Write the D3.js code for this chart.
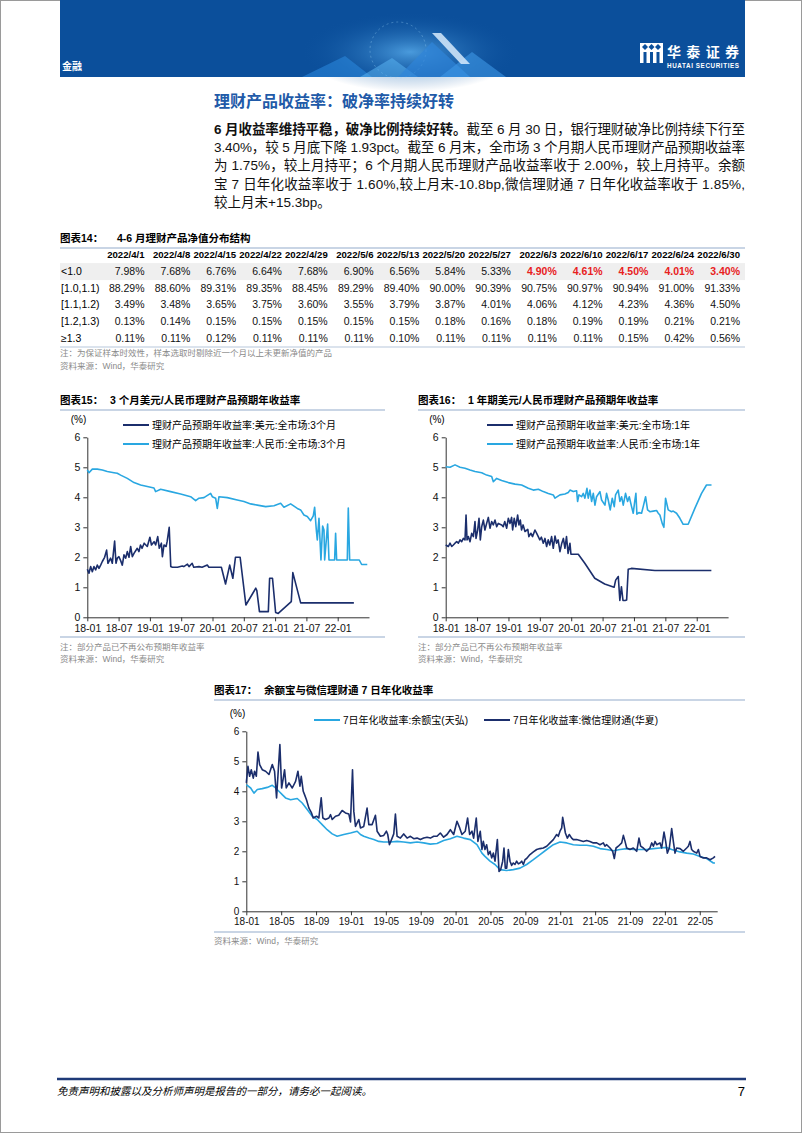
<!DOCTYPE html>
<html>
<head>
<meta charset="utf-8">
<script src="https://cdn.jsdelivr.net/npm/d3@7"></script>
<style>
  body { margin: 0; background: #fff; }
  svg { display: block; }
</style>
</head>
<body>
<svg id="page" width="802" height="1133"></svg>
<script>
// ---------- data ----------
// table 14: net value distribution
const tableDates = ["2022/4/1","2022/4/8","2022/4/15","2022/4/22","2022/4/29","2022/5/6","2022/5/13",
                    "2022/5/20","2022/5/27","2022/6/3","2022/6/10","2022/6/17","2022/6/24","2022/6/30"];
const tableRowLabels = ["<1.0", "[1.0,1.1)", "[1.1,1.2)", "[1.2,1.3)", "≥1.3"];
const rowBelow10 = [7.98,7.68,6.76,6.64,7.68,6.90,6.56,5.84,5.33,4.90,4.61,4.50,4.01,3.40];
const row10to11  = [88.29,88.60,89.31,89.35,88.45,89.29,89.40,90.00,90.39,90.75,90.97,90.94,91.00,91.33];
const row11to12  = [3.49,3.48,3.65,3.75,3.60,3.55,3.79,3.87,4.01,4.06,4.12,4.23,4.36,4.50];
const row12to13  = [0.13,0.14,0.15,0.15,0.15,0.15,0.15,0.18,0.16,0.18,0.19,0.19,0.21,0.21];
const rowAbove13 = [0.11,0.11,0.12,0.11,0.11,0.11,0.10,0.11,0.11,0.11,0.11,0.15,0.42,0.56];
const redFromDate = "2022/6/3"; // first row turns red from here

// x values below are months counted from 2018-01
const halfYearTicks = [0, 6, 12, 18, 24, 30, 36, 42, 48];
const halfYearLabels = ["18-01","18-07","19-01","19-07","20-01","20-07","21-01","21-07","22-01"];
const fourMonthTicks = [0, 4, 8, 12, 16, 20, 24, 28, 32, 36, 40, 44, 48, 52];
const fourMonthLabels = ["18-01","18-05","18-09","19-01","19-05","19-09","20-01","20-05","20-09",
                         "21-01","21-05","21-09","22-01","22-05"];
const yTicks = [0, 1, 2, 3, 4, 5, 6];

// chart 15: 3 month products
const usd3m = [[0,1.60],[0.32,1.47],[0.64,1.69],[0.96,1.52],[1.28,1.69],[1.6,1.58],[1.92,1.74],[2.24,1.63],
  [2.56,1.74],[2.88,1.86],[3.32,2.0],[3.7,2.24],[3.96,1.8],[4.47,1.97],[4.79,1.8],[5.24,2.54],[5.5,1.8],
  [5.75,1.97],[6.07,2.02],[6.39,1.89],[6.71,1.74],[7.03,2.08],[7.35,1.97],[7.67,2.19],[7.99,2.0],[8.31,2.36],
  [8.63,2.02],[8.95,2.13],[9.58,2.3],[9.9,2.19],[10.2,2.41],[10.5,2.3],[10.9,2.47],[11.5,2.36],[12.0,2.67],
  [12.3,2.41],[12.8,2.52],[13.1,2.41],[13.5,2.69],[13.8,2.3],[14.2,2.47],[14.4,2.02],[14.7,2.41],[15.1,2.36],
  [15.3,2.52],[15.7,3.0],[16.0,1.69],[16.3,1.67],[17.3,1.67],[18.2,1.71],[18.5,1.69],[19.2,1.77],[19.5,1.69],
  [20.1,1.8],[20.4,1.67],[21.4,1.69],[22.0,1.67],[23.0,1.74],[23.3,1.67],[25.7,1.67],[26.5,1.11],[27.3,1.74],
  [27.9,1.3],[28.4,2.0],[29.3,2.0],[30.4,0.41],[32.3,0.97],[32.5,0.89],[33.0,0.19],[34.7,0.19],[34.95,1.3],
  [35.5,1.3],[36.1,0.16],[36.6,0.13],[39.1,0.52],[39.4,1.49],[40.9,0.48],[51.1,0.48]];
const cny3m = [[0,4.91],[0.32,4.82],[0.96,4.94],[1.92,4.94],[2.88,4.91],[3.83,4.86],[5.11,4.82],[5.75,4.80],
  [6.39,4.74],[7.67,4.63],[8.95,4.49],[10.22,4.41],[11.5,4.36],[12.78,4.31],[13.1,4.19],[14.06,4.27],
  [15.97,4.19],[17.89,4.11],[19.81,4.02],[20.77,3.89],[21.41,3.97],[22.36,3.99],[23.64,4.13],[23.96,4.02],
  [24.6,3.97],[24.92,3.63],[25.24,4.02],[26.84,3.99],[28.75,3.91],[30.03,3.86],[31.31,3.78],[32.59,3.74],
  [34.19,3.69],[35.78,3.72],[37.06,3.80],[37.7,3.67],[38.98,3.78],[40.26,3.63],[40.89,3.58],[41.53,3.41],
  [42.17,3.36],[42.81,3.22],[43.32,3.38],[43.58,3.67],[43.9,2.91],[44.09,2.58],[44.41,3.30],[44.79,1.91],
  [45.11,3.04],[45.37,2.91],[45.5,1.91],[46.07,3.11],[46.33,1.91],[47.41,1.91],[47.6,2.80],[47.8,1.91],
  [49.84,1.91],[50.03,3.64],[50.29,1.91],[52.14,1.91],[52.59,1.76],[53.67,1.76]];

// chart 16: 1 year products
const usd1y = [[0,2.41],[0.51,2.36],[0.83,2.47],[1.15,2.36],[1.46,2.41],[1.78,2.47],[2.1,2.52],[2.42,2.47],
  [2.74,2.58],[3.06,2.52],[3.38,2.63],[3.69,2.58],[3.89,3.41],[4.08,2.58],[4.33,2.69],[4.65,2.52],[4.97,2.80],
  [5.29,2.69],[5.6,3.19],[5.8,2.63],[6.11,2.91],[6.37,3.30],[6.62,2.58],[6.88,3.02],[7.2,3.24],[7.5,2.91],
  [7.83,3.13],[8.15,3.33],[8.47,2.97],[8.79,3.19],[9.1,3.08],[9.43,3.24],[9.75,3.02],[10.06,3.13],[10.7,3.08],
  [11.0,3.02],[11.3,3.19],[11.66,2.97],[11.97,3.30],[12.3,3.13],[12.6,3.33],[12.8,2.91],[13.1,3.30],[13.4,3.02],
  [13.76,3.41],[14.0,3.08],[14.27,3.24],[14.5,2.91],[14.8,3.08],[15.16,2.86],[15.7,2.93],[15.9,2.69],[16.3,2.80],
  [16.6,2.69],[17.07,2.91],[17.4,2.80],[17.7,2.69],[18.0,2.58],[18.3,2.67],[18.66,2.47],[18.98,2.63],[19.3,2.36],
  [19.6,2.58],[19.9,2.41],[20.25,2.69],[20.57,2.30],[20.9,2.71],[21.2,2.47],[21.5,2.58],[21.85,2.19],[22.2,2.47],
  [22.5,2.63],[22.8,2.30],[23.1,2.69],[23.4,2.13],[23.76,2.47],[23.95,2.10],[25.35,2.10],[26.6,1.80],[28.5,1.30],
  [30.4,1.11],[32.2,1.00],[32.5,1.24],[33.0,1.36],[33.3,0.56],[33.6,1.02],[33.9,0.56],[34.3,0.56],[34.6,0.58],
  [34.9,1.60],[35.5,1.63],[40.0,1.56],[50.8,1.56]];
const cny1y = [[0,5.02],[0.83,5.0],[1.78,5.08],[2.74,5.0],[3.69,4.97],[4.65,4.91],[5.61,4.86],[6.88,4.82],
  [7.83,4.74],[8.79,4.69],[9.11,4.52],[9.75,4.63],[10.7,4.56],[11.97,4.49],[13.25,4.44],[14.52,4.41],[15.8,4.30],
  [16.75,4.24],[17.71,4.27],[18.66,4.19],[19.62,4.13],[20.57,4.08],[20.89,3.97],[21.85,4.08],[22.8,4.11],
  [23.44,4.16],[23.76,4.24],[24.39,4.19],[25.03,4.22],[25.22,3.86],[25.48,4.08],[25.99,4.02],[26.31,4.13],
  [26.62,3.97],[27.01,4.30],[27.26,3.97],[27.58,4.24],[27.9,3.86],[28.22,4.13],[28.54,3.74],[28.85,4.02],
  [29.49,4.19],[29.81,3.91],[30.45,3.74],[30.76,4.13],[31.08,3.91],[31.46,3.58],[31.85,3.97],[32.23,3.69],
  [32.48,4.08],[32.99,4.24],[33.31,3.86],[33.63,4.02],[33.95,3.74],[34.39,4.13],[34.78,3.86],[35.1,4.02],
  [35.54,3.69],[35.86,3.47],[36.18,3.91],[36.37,4.13],[36.56,3.44],[36.94,3.49],[37.45,3.47],[37.77,3.69],
  [38.22,4.02],[38.6,3.58],[39.04,3.52],[39.68,3.54],[40.32,3.56],[40.64,3.47],[40.96,3.41],[41.4,3.13],
  [41.72,3.00],[42.04,3.97],[42.55,3.58],[43.18,3.52],[43.5,3.54],[44.14,3.47],[44.78,3.30],[45.41,3.10],
  [46.37,3.10],[47.64,3.63],[48.92,4.13],[49.87,4.41],[50.83,4.41]];

// chart 17: 7 day annualised yield
const yuebao = [[0,4.22],[0.5,4.11],[0.88,3.94],[1.26,4.06],[1.83,4.09],[2.4,4.13],[2.98,4.2],[3.36,4.11],
  [3.74,4.0],[4.12,3.89],[4.5,3.78],[5.08,3.72],[5.84,3.76],[6.41,3.61],[6.98,3.39],[7.56,3.17],[8.13,3.06],
  [8.7,2.89],[9.27,2.72],[9.85,2.58],[10.42,2.5],[11.18,2.56],[11.95,2.61],[12.71,2.67],[13.09,2.56],[13.47,2.5],
  [14.05,2.44],[14.62,2.39],[15.19,2.33],[15.76,2.31],[16.53,2.31],[17.29,2.33],[18.05,2.31],[18.82,2.28],
  [19.58,2.31],[20.34,2.28],[21.11,2.24],[21.87,2.26],[22.63,2.36],[23.4,2.42],[24.16,2.5],[24.92,2.44],
  [25.69,2.39],[26.45,2.22],[27.02,1.94],[27.37,1.83],[27.95,1.67],[28.52,1.56],[29.09,1.39],[29.86,1.36],
  [30.62,1.39],[31.39,1.44],[32.15,1.56],[32.92,1.72],[33.68,1.89],[34.45,2.06],[35.21,2.22],[35.97,2.31],
  [36.74,2.28],[37.5,2.22],[38.27,2.2],[39.03,2.2],[39.8,2.17],[40.56,2.09],[41.33,2.06],[42.09,2.02],
  [42.86,2.06],[43.62,2.09],[44.38,2.06],[45.15,2.06],[45.91,2.06],[46.68,2.09],[47.44,2.11],[48.21,2.13],
  [48.78,2.06],[49.74,1.98],[50.5,1.94],[51.26,1.91],[52.03,1.83],[52.79,1.76],[53.56,1.61],[53.75,1.61]];
const wechat = [[0,4.28],[0.19,4.83],[0.38,4.5],[0.57,4.72],[0.8,4.44],[0.95,4.67],[1.15,4.5],[1.34,5.31],
  [1.53,4.89],[1.83,4.72],[2.21,4.67],[2.6,4.56],[2.98,4.89],[3.24,4.67],[3.47,3.78],[3.66,4.67],[3.85,5.56],
  [4.05,4.11],[4.24,4.44],[4.39,4.72],[4.58,4.11],[4.89,4.28],[5.27,4.11],[5.65,4.33],[5.92,4.67],[6.15,4.17],
  [6.3,4.5],[6.53,4.0],[6.68,3.89],[6.9,3.72],[7.18,3.44],[7.48,3.28],[7.67,3.11],[8.05,3.17],[8.32,3.11],
  [8.59,3.78],[8.78,3.11],[9.08,3.06],[9.47,3.11],[9.66,3.22],[9.85,3.06],[10.23,3.17],[10.6,3.2],[10.99,3.36],
  [11.37,3.28],[11.76,3.24],[11.95,2.98],[12.18,4.72],[12.33,3.33],[12.52,2.83],[12.9,3.06],[13.09,2.78],
  [13.47,2.83],[13.85,3.44],[14.05,2.89],[14.43,2.89],[14.81,3.2],[15.0,2.67],[15.38,2.5],[15.76,2.53],
  [16.07,2.67],[16.22,2.56],[16.41,2.22],[16.72,2.44],[16.91,2.58],[17.1,3.24],[17.29,2.5],[17.67,2.44],
  [18.05,2.58],[18.44,2.44],[18.82,2.5],[19.2,2.42],[19.58,2.44],[19.96,2.39],[20.34,2.44],[20.73,2.47],
  [21.11,2.44],[21.49,2.5],[21.87,2.5],[22.25,2.61],[22.63,2.47],[23.02,2.56],[23.4,2.72],[23.78,2.56],
  [24.16,3.0],[24.47,2.78],[24.73,2.56],[25.11,2.67],[25.38,3.11],[25.61,2.56],[25.88,2.67],[26.07,2.44],
  [26.37,3.11],[26.56,2.33],[26.83,2.67],[27.02,2.06],[27.18,2.33],[27.37,2.06],[27.56,2.22],[27.75,1.89],
  [27.95,2.0],[28.14,1.78],[28.33,1.94],[28.52,1.67],[28.79,2.39],[28.98,1.33],[29.17,1.39],[29.4,1.67],
  [29.55,2.11],[29.7,1.44],[29.86,1.44],[30.05,2.06],[30.24,1.67],[30.43,1.53],[30.62,1.61],[30.81,1.56],
  [31.0,1.67],[31.2,1.58],[31.39,1.61],[31.58,1.67],[31.77,1.56],[31.96,1.72],[32.15,1.76],[32.53,1.89],
  [32.92,1.98],[33.3,2.06],[33.68,2.09],[34.06,2.11],[34.45,2.17],[34.83,2.28],[35.21,2.39],[35.59,2.56],
  [35.78,2.5],[35.97,2.67],[36.17,2.78],[36.28,3.13],[36.43,2.89],[36.59,2.61],[36.82,2.44],[37.04,2.56],
  [37.31,2.44],[37.5,2.39],[37.88,2.39],[38.27,2.36],[38.65,2.33],[39.03,2.36],[39.41,2.33],[39.8,2.28],
  [40.18,2.28],[40.56,2.22],[40.94,2.28],[41.13,2.17],[41.33,2.22],[41.71,2.11],[42.01,2.0],[42.2,1.76],
  [42.4,2.11],[42.66,2.17],[43.05,2.28],[43.24,2.53],[43.43,2.33],[43.62,2.11],[44.0,2.06],[44.38,2.11],
  [44.77,2.0],[45.03,2.44],[45.22,2.17],[45.53,2.11],[45.91,2.0],[46.29,2.11],[46.49,2.28],[46.68,2.17],
  [46.87,2.33],[47.06,2.22],[47.44,2.28],[47.63,2.11],[47.9,2.64],[48.09,2.33],[48.28,1.94],[48.51,2.11],
  [48.78,2.76],[48.97,2.33],[49.16,1.94],[49.35,2.11],[49.74,2.09],[50.12,2.0],[50.5,2.11],[50.69,2.17],
  [50.88,2.33],[51.07,2.06],[51.26,2.0],[51.65,1.94],[51.84,2.06],[52.03,1.83],[52.41,1.78],[52.79,1.78],
  [53.18,1.72],[53.56,1.78],[53.75,1.83]];

// ---------- page ----------
const FONT = "'Liberation Sans', Arial, 'Noto Sans CJK SC', sans-serif";
const NAVY = "#1b2e6c", SKY = "#29a7e1", RULE = "#b7c7dc", NOTE = "#8a8a8a";
const svg = d3.select("#page").style("font-family", FONT);

svg.append("rect").attr("x", 0.5).attr("y", 0.5).attr("width", 801).attr("height", 1132)
   .attr("fill", "#fff").attr("stroke", "#9a9a9a");

// header band
const defs = svg.append("defs");
const glow = defs.append("radialGradient").attr("id", "glow");
glow.append("stop").attr("offset", "0%").attr("stop-color", "#5fb4f2").attr("stop-opacity", 0.75);
glow.append("stop").attr("offset", "100%").attr("stop-color", "#0b4f9b").attr("stop-opacity", 0);

svg.append("rect").attr("x", 60).attr("y", 0).attr("width", 685).attr("height", 77).attr("fill", "#0b4f9b");
svg.append("ellipse").attr("cx", 410).attr("cy", 52).attr("rx", 110).attr("ry", 40).attr("fill", "url(#glow)");
svg.append("circle").attr("cx", 398).attr("cy", 50).attr("r", 28).attr("fill", "none")
   .attr("stroke", "#9fd3f7").attr("stroke-opacity", 0.35).attr("stroke-dasharray", "2,3");
const deco = [
  ["302,77 345,56 372,77", "#2b8be0", 0.55],
  ["360,77 392,58 418,77", "#5ab3f0", 0.55],
  ["398,77 432,42 470,77", "#2f84d8", 0.7],
  ["440,77 472,52 506,77", "#3d98e6", 0.6],
  ["432,33 441,33 470,64 461,64", "#d6eafc", 0.85]
];
deco.forEach(p => svg.append("polygon").attr("points", p[0]).attr("fill", p[1]).attr("opacity", p[2]));

svg.append("text").attr("x", 62).attr("y", 70).attr("fill", "#fff").attr("font-size", 10)
   .attr("font-weight", "bold").text("金融");

// logo
const logo = svg.append("g");
logo.append("rect").attr("x", 640).attr("y", 43).attr("width", 23).attr("height", 20).attr("fill", "#fff");
[[645, 47], [651.5, 47], [658, 47]].forEach(c =>
  logo.append("polygon").attr("points", `${c[0]},${c[1]-3} ${c[0]+3},${c[1]} ${c[0]},${c[1]+3} ${c[0]-3},${c[1]}`)
      .attr("fill", "#0b4f9b"));
[[643.5, 52], [650, 52], [656.5, 52]].forEach(c =>
  logo.append("rect").attr("x", c[0]).attr("y", c[1]).attr("width", 3).attr("height", 11).attr("fill", "#0b4f9b"));
logo.append("text").attr("x", 667).attr("y", 57).attr("fill", "#fff").attr("font-size", 14)
    .attr("font-weight", "bold").attr("font-family", "'Noto Sans CJK SC', sans-serif")
    .attr("textLength", 72).text("华泰证券");
logo.append("text").attr("x", 667).attr("y", 68).attr("fill", "#fff").attr("font-size", 6.3)
    .attr("font-weight", "bold").attr("textLength", 72).text("HUATAI SECURITIES");

// section title and paragraph
svg.append("text").attr("x", 214).attr("y", 107).attr("fill", "#215aa8").attr("font-size", 16)
   .attr("font-weight", "bold").text("理财产品收益率：破净率持续好转");

const paraLines = [
  ["6 月收益率维持平稳，破净比例持续好转。", "截至 6 月 30 日，银行理财破净比例持续下行至"],
  ["", "3.40%，较 5 月底下降 1.93pct。截至 6 月末，全市场 3 个月期人民币理财产品预期收益率"],
  ["", "为 1.75%，较上月持平；6 个月期人民币理财产品收益率收于 2.00%，较上月持平。余额"],
  ["", "宝 7 日年化收益率收于 1.60%,较上月末-10.8bp,微信理财通 7 日年化收益率收于 1.85%,"],
  ["", "较上月末+15.3bp。"]
];
paraLines.forEach((ln, i) => {
  const t = svg.append("text").attr("x", 214).attr("y", 134 + i * 18.2).attr("font-size", 13.5)
     .attr("fill", "#111");
  if (i < paraLines.length - 1) t.attr("textLength", 531).attr("lengthAdjust", "spacing");
  if (ln[0]) t.append("tspan").attr("font-weight", "bold").text(ln[0]);
  t.append("tspan").text(ln[1]);
});

// ---------- table 14 ----------
function chartTitle(x, y, x2, lead, rest, right) {
  svg.append("text").attr("x", x).attr("y", y).attr("font-size", 10.5).attr("font-weight", "bold").text(lead);
  svg.append("text").attr("x", x2).attr("y", y).attr("font-size", 10.5).attr("font-weight", "bold").text(rest);
  svg.append("line").attr("x1", x).attr("x2", right).attr("y1", y + 6).attr("y2", y + 6)
     .attr("stroke", RULE).attr("stroke-width", 1.5);
}
chartTitle(60, 242, 117, "图表14：", "4-6 月理财产品净值分布结构", 745);

const colX = d3.scalePoint().domain(tableDates).range([144.5, 740]);
const rowY = d3.scalePoint().domain(["head"].concat(tableRowLabels)).range([255, 338]);
const tableRows = [rowBelow10, row10to11, row11to12, row12to13, rowAbove13];

svg.append("rect").attr("x", 60).attr("y", rowY("<1.0") - 8.5).attr("width", 685).attr("height", 17)
   .attr("fill", "#efefef");

svg.selectAll("text.thead").data(tableDates).enter().append("text")
   .attr("x", d => colX(d)).attr("y", rowY("head")).attr("dy", "0.35em")
   .attr("text-anchor", "end").attr("font-size", 9.6).attr("font-weight", "bold").text(d => d);

const redIndex = tableDates.indexOf(redFromDate);
tableRows.forEach((vals, r) => {
  const yy = rowY(tableRowLabels[r]);
  svg.append("text").attr("x", 61).attr("y", yy).attr("dy", "0.35em").attr("font-size", 10.5)
     .text(tableRowLabels[r]);
  svg.selectAll(null).data(vals).enter().append("text")
     .attr("x", (d, i) => colX(tableDates[i])).attr("y", yy).attr("dy", "0.35em")
     .attr("text-anchor", "end").attr("font-size", 10.5)
     .attr("fill", (d, i) => r === 0 && i >= redIndex ? "#e8211d" : "#111")
     .attr("font-weight", (d, i) => r === 0 && i >= redIndex ? "bold" : "normal")
     .text(d => d.toFixed(2) + "%");
});
svg.append("line").attr("x1", 60).attr("x2", 745).attr("y1", 347).attr("y2", 347)
   .attr("stroke", RULE).attr("stroke-width", 1.2);
svg.append("text").attr("x", 60).attr("y", 356).attr("font-size", 8.5).attr("fill", NOTE)
   .text("注：为保证样本时效性，样本选取时剔除近一个月以上未更新净值的产品");
svg.append("text").attr("x", 60).attr("y", 369).attr("font-size", 8.5).attr("fill", NOTE)
   .text("资料来源：Wind，华泰研究");

// ---------- line charts ----------
function drawChart(cfg) {
  const x = d3.scaleLinear().domain([0, 54]).range([cfg.left, cfg.right]);
  const y = d3.scaleLinear().domain([0, 6]).range([cfg.bottom, cfg.top]);
  const g = svg.append("g");

  g.append("text").attr("x", cfg.left - 1).attr("y", cfg.top - 14).attr("text-anchor", "end")
   .attr("font-size", 10).text("(%)");

  const yAxis = g.append("g").attr("transform", `translate(${cfg.left},0)`)
    .call(d3.axisLeft(y).tickValues(yTicks).tickFormat(d3.format("d"))
      .tickSize(4).tickSizeOuter(0).tickPadding(3));
  const xAxis = g.append("g").attr("transform", `translate(0,${cfg.bottom})`)
    .call(d3.axisBottom(x).tickValues(cfg.ticks).tickFormat((d, i) => cfg.tickLabels[i])
      .tickSize(4).tickSizeOuter(0).tickPadding(3));
  [yAxis, xAxis].forEach(a => {
    a.selectAll("path, line").attr("stroke", "#333");
    a.selectAll("text").attr("font-size", cfg.tickFont).attr("font-family", FONT).attr("fill", "#111");
  });

  const line = d3.line().x(d => x(d[0])).y(d => y(d[1]));
  cfg.series.forEach(s => {
    g.append("path").datum(s.data).attr("d", line).attr("fill", "none")
     .attr("stroke", s.color).attr("stroke-width", 1.6).attr("stroke-linejoin", "round");
  });

  cfg.legend.forEach(l => {
    g.append("line").attr("x1", l.x).attr("x2", l.x + 26).attr("y1", l.y).attr("y2", l.y)
     .attr("stroke", l.color).attr("stroke-width", 2);
    g.append("text").attr("x", l.x + 29).attr("y", l.y).attr("dy", "0.35em").attr("font-size", 10)
     .text(l.text);
  });
}

// chart 15
chartTitle(60, 404, 110, "图表15：", "3 个月美元/人民币理财产品预期年收益率", 385);
drawChart({
  left: 87.3, right: 369, top: 437.3, bottom: 617.3, tickFont: 10.5,
  ticks: halfYearTicks, tickLabels: halfYearLabels,
  series: [{data: cny3m, color: SKY}, {data: usd3m, color: NAVY}],
  legend: [
    {x: 123, y: 425, color: NAVY, text: "理财产品预期年收益率:美元:全市场:3个月"},
    {x: 123, y: 444, color: SKY, text: "理财产品预期年收益率:人民币:全市场:3个月"}
  ]
});
svg.append("line").attr("x1", 60).attr("x2", 385).attr("y1", 637).attr("y2", 637)
   .attr("stroke", RULE).attr("stroke-width", 1.5);
svg.append("text").attr("x", 60).attr("y", 650).attr("font-size", 8.5).attr("fill", NOTE)
   .text("注：部分产品已不再公布预期年收益率");
svg.append("text").attr("x", 60).attr("y", 662).attr("font-size", 8.5).attr("fill", NOTE)
   .text("资料来源：Wind，华泰研究");

// chart 16
chartTitle(418, 404, 468, "图表16：", "1 年期美元/人民币理财产品预期年收益率", 745);
drawChart({
  left: 445.7, right: 728.1, top: 437.3, bottom: 617.3, tickFont: 10.5,
  ticks: halfYearTicks, tickLabels: halfYearLabels,
  series: [{data: cny1y, color: SKY}, {data: usd1y, color: NAVY}],
  legend: [
    {x: 487, y: 425, color: NAVY, text: "理财产品预期年收益率:美元:全市场:1年"},
    {x: 487, y: 444, color: SKY, text: "理财产品预期年收益率:人民币:全市场:1年"}
  ]
});
svg.append("line").attr("x1", 418).attr("x2", 745).attr("y1", 637).attr("y2", 637)
   .attr("stroke", RULE).attr("stroke-width", 1.5);
svg.append("text").attr("x", 418).attr("y", 650).attr("font-size", 8.5).attr("fill", NOTE)
   .text("注：部分产品已不再公布预期年收益率");
svg.append("text").attr("x", 418).attr("y", 662).attr("font-size", 8.5).attr("fill", NOTE)
   .text("资料来源：Wind，华泰研究");

// chart 17
chartTitle(214, 694, 264, "图表17：", "余额宝与微信理财通 7 日年化收益率", 745);
drawChart({
  left: 246.3, right: 717.2, top: 731.3, bottom: 911.3, tickFont: 10,
  ticks: fourMonthTicks, tickLabels: fourMonthLabels,
  series: [{data: yuebao, color: SKY}, {data: wechat, color: NAVY}],
  legend: [
    {x: 314, y: 720, color: SKY, text: "7日年化收益率:余额宝(天弘)"},
    {x: 484, y: 720, color: NAVY, text: "7日年化收益率:微信理财通(华夏)"}
  ]
});
svg.append("line").attr("x1", 214).attr("x2", 745).attr("y1", 932).attr("y2", 932)
   .attr("stroke", RULE).attr("stroke-width", 1.5);
svg.append("text").attr("x", 214).attr("y", 944).attr("font-size", 8.5).attr("fill", NOTE)
   .text("资料来源：Wind，华泰研究");

// ---------- footer ----------
svg.append("line").attr("x1", 57).attr("x2", 746).attr("y1", 1079).attr("y2", 1079)
   .attr("stroke", "#1f3a78").attr("stroke-width", 2.5);
svg.append("text").attr("x", 57).attr("y", 1095).attr("font-size", 10.5).attr("font-style", "italic")
   .text("免责声明和披露以及分析师声明是报告的一部分，请务必一起阅读。");
svg.append("text").attr("x", 745).attr("y", 1096).attr("text-anchor", "end").attr("font-size", 13)
   .text("7");
</script>
</body>
</html>
